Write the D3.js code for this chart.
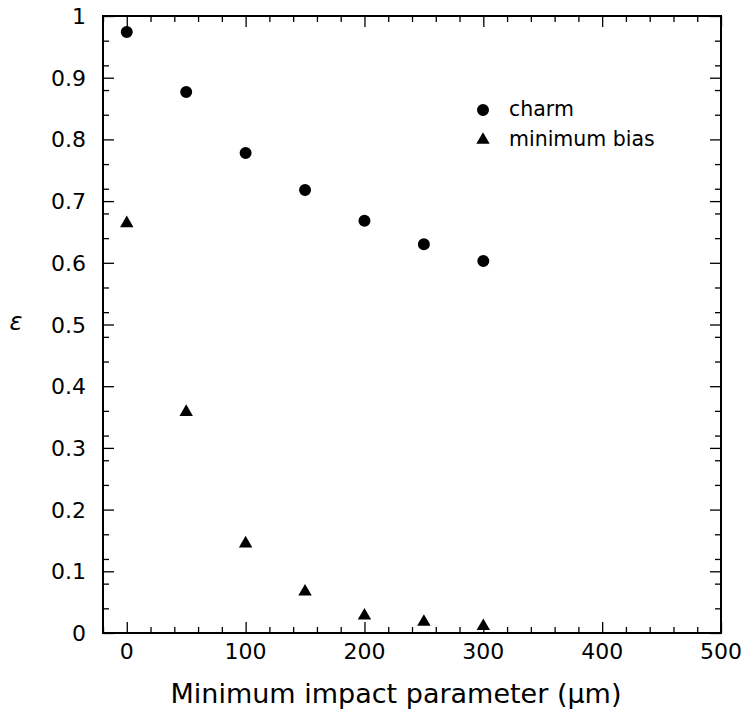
<!DOCTYPE html>
<html>
<head>
<meta charset="utf-8">
<script src="https://cdn.jsdelivr.net/npm/d3@7"></script>
<style>
  body { margin: 0; background: #fff; }
  svg { display: block; }
  .frame { fill: none; stroke: #000; stroke-width: 2; }
  .tick line { stroke: #000; stroke-width: 1.3; }
  .domain { display: none; }
  text { font-family: "DejaVu Sans", sans-serif; fill: #000; }
</style>
</head>
<body>
<div id="graph-container"></div>
<script>
const width = 745;
const height = 710;
const margins = {top: 16, right: 24, bottom: 77, left: 103};

const impactParams = [0, 50, 100, 150, 200, 250, 300];
const charmEff = [0.974, 0.877, 0.778, 0.718, 0.668, 0.630, 0.603];
const minBiasEff = [0.664, 0.358, 0.145, 0.067, 0.028, 0.018, 0.011];
const xTicks = [0, 100, 200, 300, 400, 500];
const yTicks = [0, 0.1, 0.2, 0.3, 0.4, 0.5, 0.6, 0.7, 0.8, 0.9, 1];
const yTickLabels = ['0', '0.1', '0.2', '0.3', '0.4', '0.5', '0.6', '0.7', '0.8', '0.9', '1'];
const legendNames = ['charm', 'minimum bias'];

const svg = d3.select('#graph-container')
              .append('svg')
              .attr('width', width)
              .attr('height', height);

const x = d3.scaleLinear()
            .domain([-20, 500])
            .range([margins.left, width - margins.right]);
const y = d3.scaleLinear()
            .domain([0, 1])
            .range([height - margins.bottom, margins.top]);

const majLen = 11;
const minLen = 6;
const xMinor = d3.range(-20, 501, 20).filter((v) => v % 100 !== 0);
const yMinor = d3.range(0, 51, 2).map((v) => v / 50).filter((v) => Math.round(v * 100) % 10 !== 0);

// minor + major ticks on all four sides, pointing inward
function addTicks(axisFn, scale, pos, minor, major) {
  svg.append('g')
     .attr('transform', pos)
     .call(axisFn(scale).tickValues(minor).tickSize(-minLen).tickFormat(''));
  svg.append('g')
     .attr('transform', pos)
     .call(axisFn(scale).tickValues(major).tickSize(-majLen).tickFormat(''));
}
addTicks(d3.axisBottom, x, `translate(0,${y(0)})`, xMinor, xTicks);
addTicks(d3.axisTop, x, `translate(0,${y(1)})`, xMinor, xTicks);
addTicks(d3.axisLeft, y, `translate(${x(-20)},0)`, yMinor, yTicks);
addTicks(d3.axisRight, y, `translate(${x(500)},0)`, yMinor, yTicks);

// tick labels
svg.append('g').selectAll('text')
   .data(xTicks)
   .enter()
   .append('text')
   .attr('x', (d) => x(d))
   .attr('y', y(0) + 26)
   .attr('text-anchor', 'middle')
   .attr('font-size', 22)
   .text((d) => d);

svg.append('g').selectAll('text')
   .data(yTicks)
   .enter()
   .append('text')
   .attr('x', margins.left - 17)
   .attr('y', (d) => y(d) + 8)
   .attr('text-anchor', 'end')
   .attr('font-size', 22)
   .text((d, i) => yTickLabels[i]);

// frame
svg.append('rect')
   .attr('class', 'frame')
   .attr('x', x(-20))
   .attr('y', y(1))
   .attr('width', x(500) - x(-20))
   .attr('height', y(0) - y(1));

// axis titles
svg.append('text')
   .attr('x', 396)
   .attr('y', 703)
   .attr('text-anchor', 'middle')
   .attr('font-size', 27)
   .text('Minimum impact parameter (\u03BCm)');

svg.append('text')
   .attr('x', 16)
   .attr('y', 330)
   .attr('text-anchor', 'middle')
   .attr('font-size', 24)
   .attr('font-style', 'italic')
   .text('\u03B5');

// markers
const circleSym = d3.symbol().type(d3.symbolCircle).size(113);
const triSym = d3.symbol().type(d3.symbolTriangle).size(78);

svg.append('g').selectAll('path')
   .data(impactParams)
   .enter()
   .append('path')
   .attr('d', circleSym)
   .attr('transform', (d, i) => `translate(${x(d)},${y(charmEff[i])})`);

svg.append('g').selectAll('path')
   .data(impactParams)
   .enter()
   .append('path')
   .attr('d', triSym)
   .attr('transform', (d, i) => `translate(${x(d)},${y(minBiasEff[i])})`);

// legend
const legend = svg.append('g');
legend.append('path')
      .attr('d', circleSym)
      .attr('transform', 'translate(483,110)');
legend.append('path')
      .attr('d', triSym)
      .attr('transform', 'translate(483,140)');
legend.selectAll('text')
      .data(legendNames)
      .enter()
      .append('text')
      .attr('x', 509)
      .attr('y', (d, i) => 116 + i * 30)
      .attr('font-size', 20.5)
      .text((d) => d);
</script>
</body>
</html>
